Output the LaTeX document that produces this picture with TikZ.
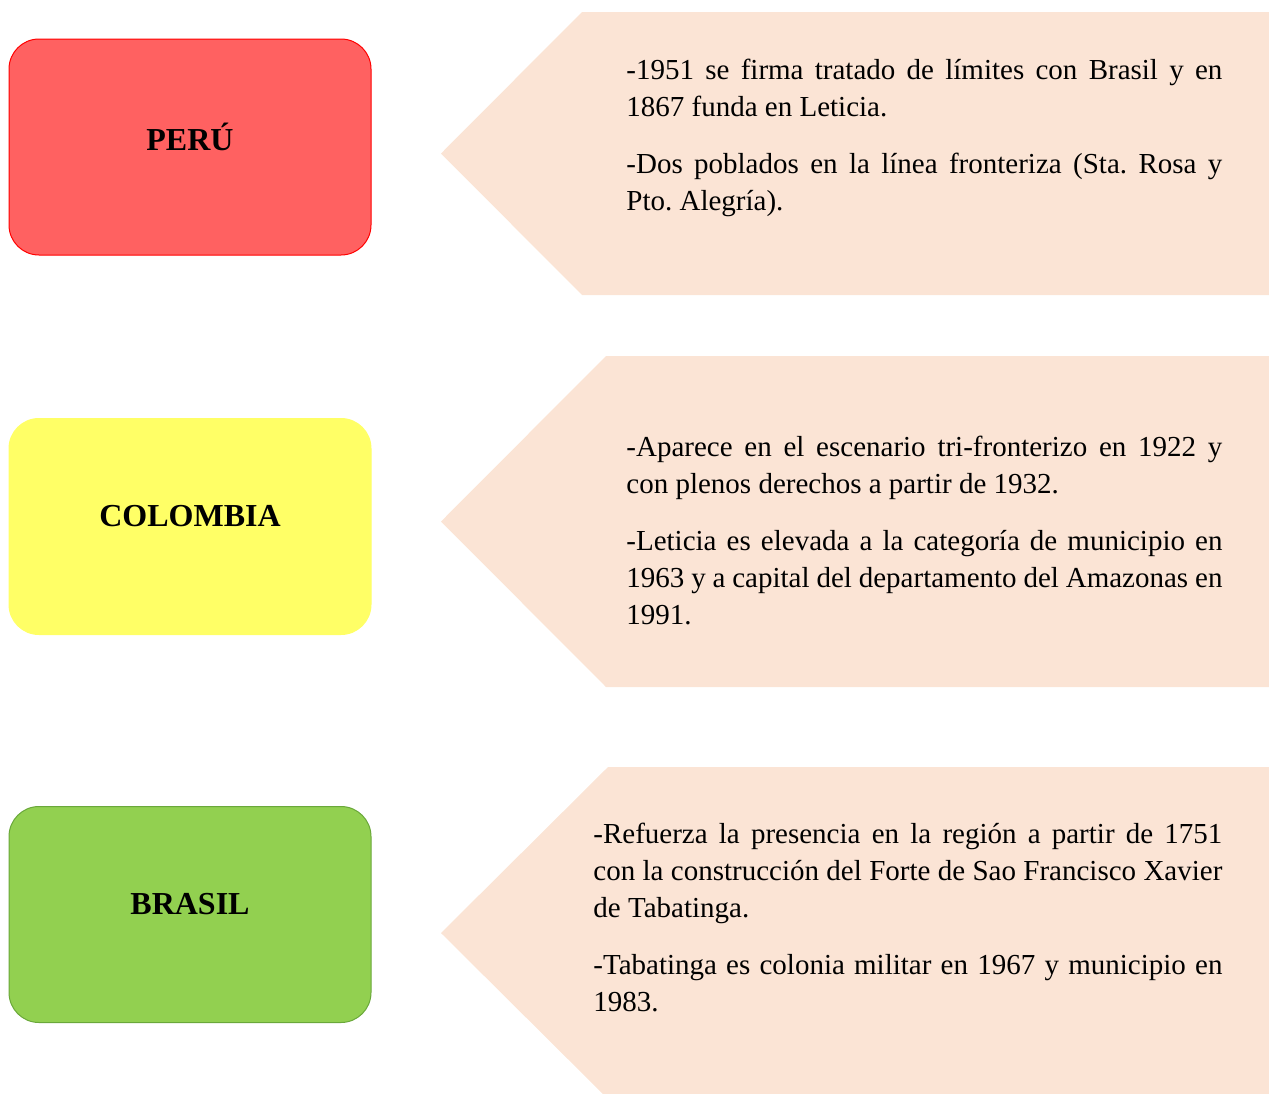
\documentclass[tikz,border=0pt]{standalone}
\usepackage{fontspec}
\setmainfont{Liberation Serif}

\definecolor{peach}{HTML}{FBE4D5}
\definecolor{perufill}{HTML}{FF6161}
\definecolor{colfill}{HTML}{FFFF66}
\definecolor{brafill}{HTML}{92D050}
\definecolor{braline}{HTML}{6AA83A}

\tikzset{
country/.style={rounded corners=15pt, line width=0.5pt, minimum width=181pt,
  minimum height=108pt, inner sep=0pt, font=\fontsize{16}{19}\selectfont\bfseries},
info/.style={anchor=north west, inner sep=0pt, text width=298pt, align=justify,
  font=\fontsize{14.5}{18.5}\selectfont,
  execute at begin node={\frenchspacing\setlength\parindent{0pt}\setlength\parskip{10pt}\strut}}
}

\begin{document}
\begin{tikzpicture}[x=0.5pt, y=-0.5pt]
\useasboundingbox (0,0) rectangle (1269,1093);

% flechas de fondo
\begin{scope}
\clip (0,0) rectangle (1269,1093);
\foreach \top/\bot/\corner in {12/295/582, 356/687/606, 767/1099/608}{
\pgfmathsetmacro{\tip}{(\top+\bot)/2}
\fill[peach] (\corner,\top) -- (1269,\top) -- (1269,\bot) -- (\corner,\bot) -- (441,\tip) -- cycle;
}
\end{scope}

% paises
\node[country, draw=red, fill=perufill] (peru) at (190,147) {\raisebox{10pt}{PERÚ}};
\node[country, draw=colfill, fill=colfill] (colombia) at (190,526.5) {\raisebox{10.5pt}{COLOMBIA}};
\node[country, draw=braline, fill=brafill] (brasil) at (190,914.5) {\raisebox{10.5pt}{BRASIL}};

% textos
\node[info] (peruinfo) at (626,53) {-1951 se firma tratado de límites con Brasil y en 1867 funda en Leticia.\par
-Dos poblados en la línea fronteriza (Sta. Rosa y\linebreak Pto. Alegría).};

\node[info] (colinfo) at (626,430) {-Aparece en el escenario tri-fronterizo en 1922 y\linebreak con plenos derechos a partir de 1932.\par
-Leticia es elevada a la categoría de municipio en 1963 y a capital del departamento del Amazonas en 1991.};

\node[info, text width=314.5pt] (brainfo) at (593,817) {-Refuerza la presencia en la región a partir de 1751\linebreak con la construcción del Forte de Sao Francisco Xavier\linebreak de Tabatinga.\par
-Tabatinga es colonia militar en 1967 y municipio en 1983.};
\end{tikzpicture}
\end{document}
